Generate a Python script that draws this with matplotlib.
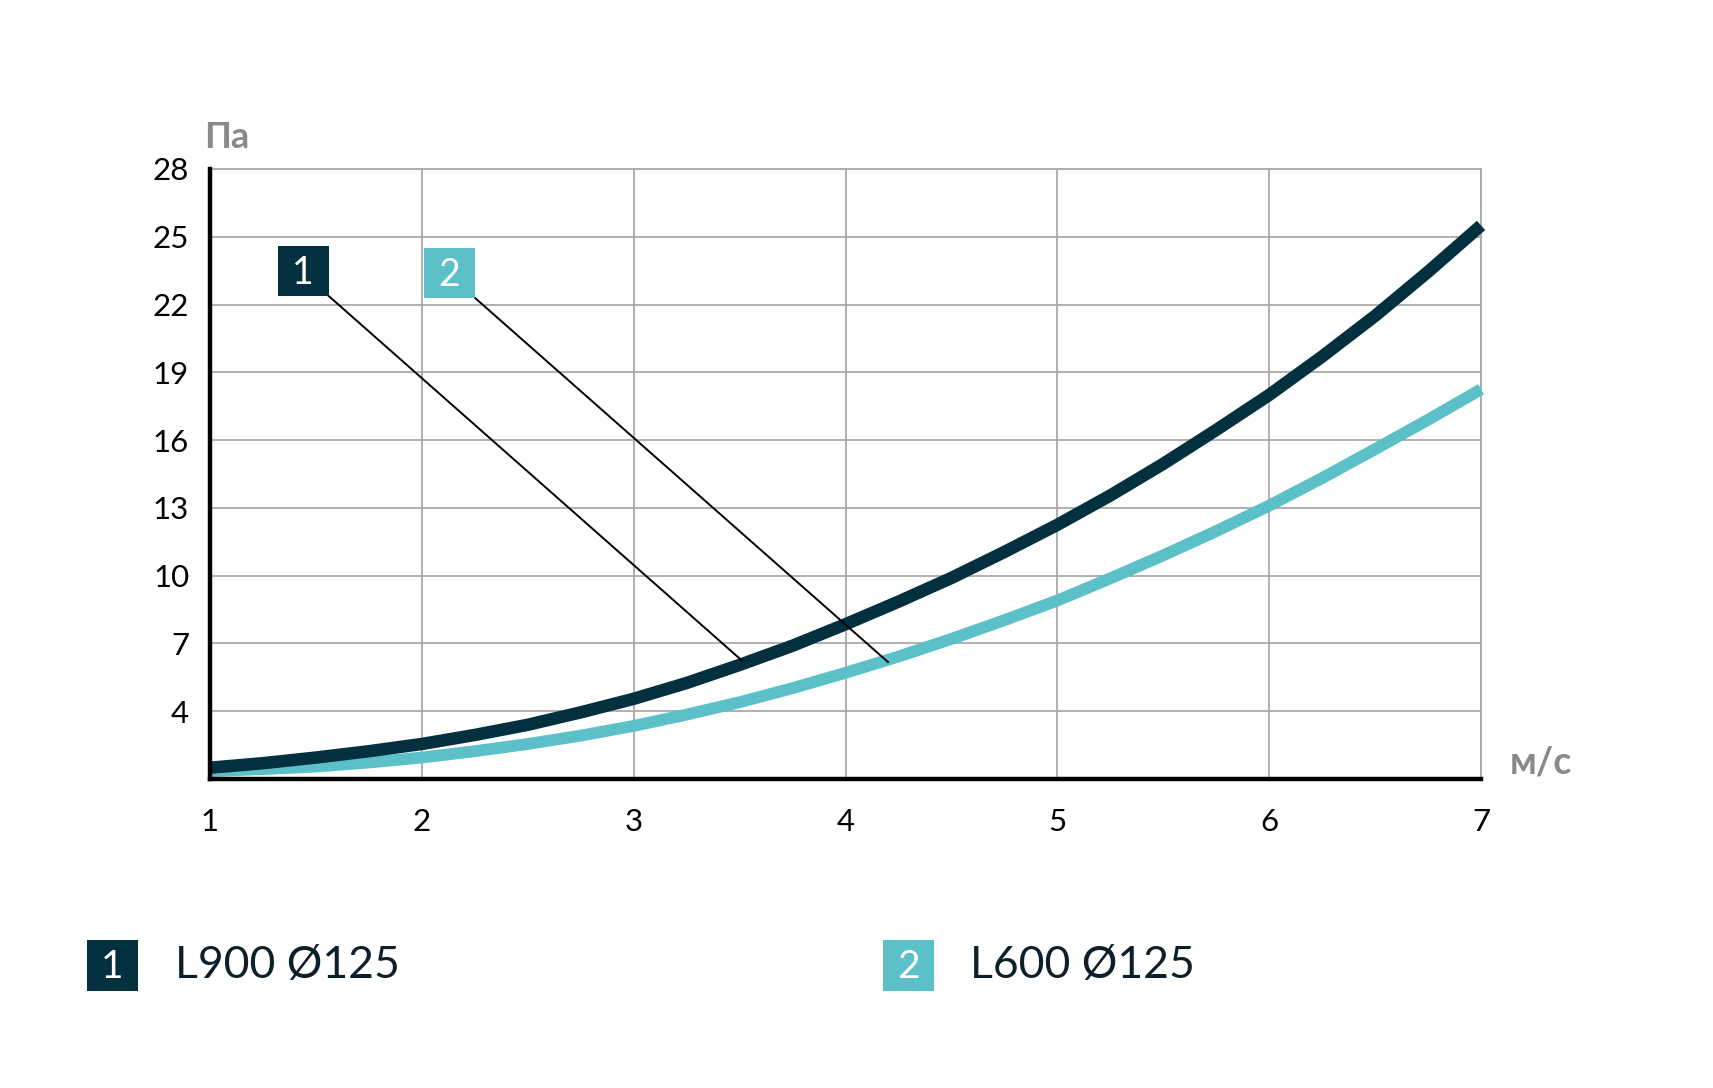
import matplotlib.pyplot as plt
import matplotlib.patches as patches

# Data
speed = [1, 1.25, 1.5, 1.75, 2, 2.25, 2.5, 2.75, 3, 3.25, 3.5, 3.75, 4,
         4.25, 4.5, 4.75, 5, 5.25, 5.5, 5.75, 6, 6.25, 6.5, 6.75, 7]
pa_l900 = [1.5, 1.7, 1.95, 2.23, 2.55, 2.95, 3.4, 3.95, 4.55, 5.25, 6.05, 6.9, 7.85,
           8.85, 9.9, 11.05, 12.25, 13.55, 14.95, 16.45, 18.0, 19.7, 21.5, 23.45, 25.5]
pa_l600 = [1.35, 1.44, 1.55, 1.73, 1.95, 2.23, 2.55, 2.92, 3.35, 3.85, 4.4, 5.02, 5.7,
           6.42, 7.2, 8.03, 8.9, 9.88, 10.9, 11.97, 13.1, 14.32, 15.6, 16.9, 18.25]
x_ticks = [1, 2, 3, 4, 5, 6, 7]
y_ticks = [4, 7, 10, 13, 16, 19, 22, 25, 28]
series_names = ['L900 Ø125', 'L600 Ø125']

dark = '#03303f'
teal = '#5bc0c7'
grey = '#aaaaaa'

plt.rcParams['font.family'] = ['Lato', 'DejaVu Sans']

fig = plt.figure(figsize=(17.13, 10.88), dpi=100)
ax = fig.add_axes([0.1226, 0.284, 0.7420, 0.5607])

# Curves
ax.plot(speed, pa_l600, color=teal, lw=8.5, solid_capstyle='butt', zorder=3, clip_on=False)
ax.plot(speed, pa_l900, color=dark, lw=9, solid_capstyle='butt', zorder=4, clip_on=False)

ax.set_xlim(1, 7)
ax.set_ylim(1, 28)
ax.set_xticks(x_ticks)
ax.set_yticks(y_ticks)
ax.tick_params(length=0, labelsize=22.5, colors='black')
ax.tick_params(axis='x', pad=21)
ax.tick_params(axis='y', pad=15)
ax.grid(True, color=grey, lw=1.3, zorder=0)

for s in ['left', 'bottom']:
    ax.spines[s].set_linewidth(3.2)
    ax.spines[s].set_color('black')
    ax.spines[s].set_zorder(5)
for s in ['top', 'right']:
    ax.spines[s].set_linewidth(1.3)
    ax.spines[s].set_color(grey)

# Axis units
fig.text(227 / 1713, 1 - 137 / 1088, 'Па', fontsize=26, fontweight='bold',
         color='#8a8a8a', ha='center', va='center')
fig.text(1541 / 1713, 1 - 763 / 1088, 'м/с', fontsize=27, fontweight='bold',
         color='#8a8a8a', ha='center', va='center')

# Number boxes with leader lines inside chart
labels = [('1', dark, 1.32, 22.38, 3.51, 6.25),
          ('2', teal, 2.01, 22.3, 4.2, 6.18)]
for txt, col, bx, by, ex, ey in labels:
    w, h = 0.24, 2.2
    ax.add_patch(patches.Rectangle((bx, by), w, h, facecolor=col, edgecolor='none', zorder=6))
    ax.text(bx + w / 2, by + h / 2 - 0.1, txt, color='white', fontsize=27,
            ha='center', va='center', zorder=7)
    ax.plot([bx + w, ex], [by, ey], color='black', lw=1.4, zorder=5)

# Legend below
legend_pos = [(87, 175), (883, 970)]
for (bx, tx), col, name, num in zip(legend_pos, [dark, teal], series_names, ['1', '2']):
    fig.patches.append(patches.Rectangle((bx / 1713, 1 - 991 / 1088), 51 / 1713, 51 / 1088,
                                         transform=fig.transFigure, facecolor=col,
                                         edgecolor='none'))
    fig.text((bx + 25.5) / 1713, 1 - 967 / 1088, num, color='white', fontsize=28,
             ha='center', va='center')
    fig.text(tx / 1713, 1 - 965 / 1088, name, color='#0d1f29', fontsize=32,
             ha='left', va='center')

plt.savefig('out.png', dpi=100)
